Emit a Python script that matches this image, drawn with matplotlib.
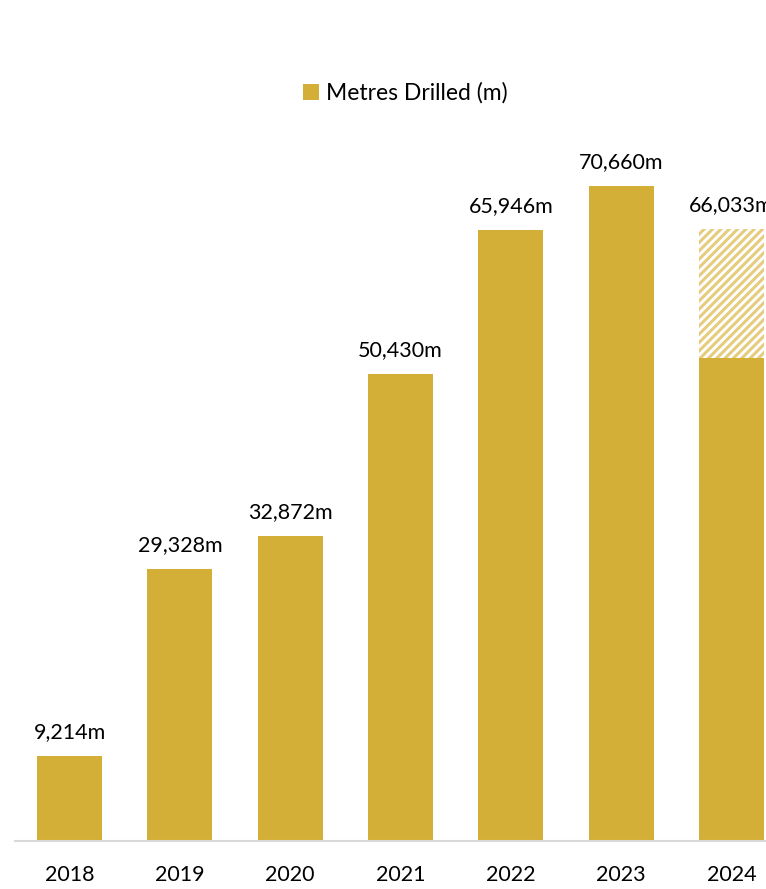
import matplotlib.pyplot as plt

plt.rcParams['font.family'] = ['Lato', 'DejaVu Sans']
plt.rcParams['hatch.linewidth'] = 2.2

years = ["2018", "2019", "2020", "2021", "2022", "2023", "2024"]
metres = [9214, 29328, 32872, 50430, 65946, 70660, 66033]
solid_2024 = 52100  # completed part of 2024, rest hatched
labels = ["9,214m", "29,328m", "32,872m", "50,430m", "65,946m", "70,660m", "66,033m"]

gold = "#D4AF37"

fig = plt.figure(figsize=(7.66, 8.89), dpi=100)
ax = fig.add_axes([14.5 / 766, 48 / 889, 751.5 / 766, 695 / 889])

x = list(range(len(years)))
solid = metres[:-1] + [solid_2024]
ax.bar(x, solid, width=0.59, color=gold, label="Metres Drilled (m)")
ax.bar(x[-1], metres[-1] - solid_2024, bottom=solid_2024, width=0.59,
       color="white", edgecolor="#E6CC7E", hatch="////", linewidth=0)

for xi, v, t in zip(x, metres, labels):
    ax.text(xi, v + 1500, t, ha="center", va="bottom", fontsize=15.5, clip_on=False)

ax.set_xlim(-0.5, -0.5 + 751.5 / 110.3)
ax.set_ylim(0, 75000)
ax.set_xticks(x)
ax.set_xticklabels(years, fontsize=15.5)
ax.tick_params(axis="x", length=0, pad=17)
ax.set_yticks([])
for s in ["top", "right", "left"]:
    ax.spines[s].set_visible(False)
ax.spines["bottom"].set_color("#D9D9D9")
ax.spines["bottom"].set_linewidth(1.5)

fig.legend(handles=[ax.patches[0]], labels=["Metres Drilled (m)"], loc="center",
           bbox_to_anchor=(405 / 766, 1 - 93 / 889), frameon=False, fontsize=16.5,
           handlelength=0.7, handleheight=0.7, handletextpad=0.3)

fig.savefig("out.png", dpi=100)
